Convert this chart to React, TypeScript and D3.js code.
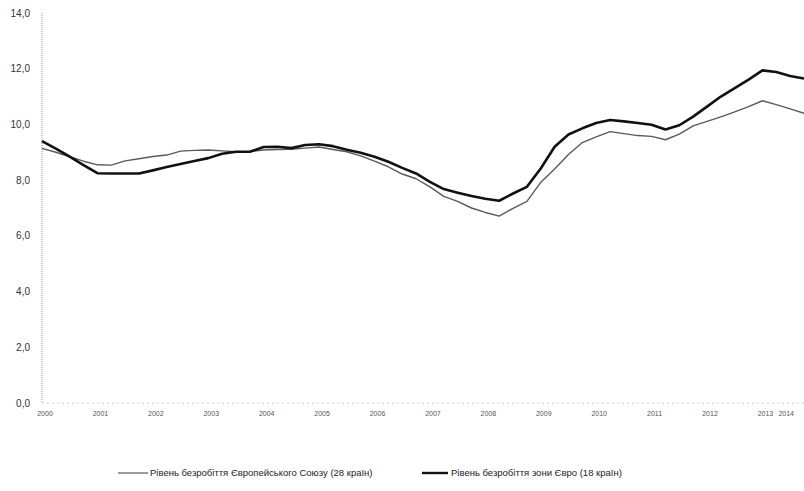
import * as d3 from "d3";

// quarterly readings, Jan 2000 .. Oct 2013
const quarters = d3.range(0, 56).map((i) => 2000 + i / 4);

const eu28 = [
  9.14, 9.0, 8.84, 8.68, 8.55, 8.54, 8.69, 8.77, 8.85, 8.9, 9.04, 9.07,
  9.08, 9.05, 9.02, 9.03, 9.08, 9.1, 9.11, 9.15, 9.19, 9.1, 9.02, 8.87,
  8.68, 8.48, 8.22, 8.05, 7.76, 7.42, 7.24, 7.0, 6.84, 6.71, 6.99, 7.24,
  7.92, 8.4, 8.92, 9.35, 9.55, 9.74, 9.67, 9.6, 9.57, 9.45, 9.65, 9.95,
  10.11, 10.27, 10.45, 10.64, 10.85, 10.71, 10.56, 10.4,
];

const ea18 = [
  9.4, 9.13, 8.84, 8.54, 8.25, 8.24, 8.24, 8.24, 8.35, 8.47, 8.58, 8.69,
  8.79, 8.95, 9.02, 9.02, 9.19, 9.2, 9.15, 9.26, 9.29, 9.22, 9.09, 8.98,
  8.84, 8.66, 8.44, 8.24, 7.94, 7.68, 7.55, 7.43, 7.33, 7.26, 7.52, 7.76,
  8.42, 9.2, 9.64, 9.86, 10.05, 10.16, 10.11, 10.05, 9.99, 9.82, 9.97, 10.28,
  10.64, 11.0, 11.3, 11.61, 11.94, 11.88, 11.74, 11.65,
];

const years = d3.range(2000, 2014);
const yTicks = [0, 2, 4, 6, 8, 10, 12, 14];

const seriesLabels = [
  "Рівень безробіття Європейського Союзу (28 країн)",
  "Рівень безробіття зони Євро (18 країн)",
];

const W = 804;
const H = 491;
const margin = { top: 13, right: 0, bottom: 88, left: 42 };

export default function App() {
  const x = d3.scaleLinear([2000, 2013.75], [margin.left, W - margin.right]);
  const y = d3.scaleLinear([0, 14], [H - margin.bottom, margin.top]);
  const fmt = (v: number) => d3.format(".1f")(v).replace(".", ",");

  const line = d3
    .line<number>()
    .x((_, i) => x(quarters[i]))
    .y((d) => y(d));

  const series = [
    { label: seriesLabels[0], data: eu28, color: "#5a5a5a", width: 1.4 },
    { label: seriesLabels[1], data: ea18, color: "#111", width: 2.6 },
  ];

  return (
    <svg
      width={W}
      height={H}
      style={{ position: "absolute", left: 0, top: 0, background: "#fff" }}
      fontFamily="'Liberation Sans', Arial, sans-serif"
    >
      {/* axes */}
      <line x1={x(2000)} x2={x(2000)} y1={y(14)} y2={y(0)} stroke="#aaa" strokeWidth={1.2} strokeDasharray="1 1" />
      <line x1={x(2000)} x2={W} y1={y(0)} y2={y(0)} stroke="#d0d0d0" strokeWidth={1} strokeDasharray="2 3" />

      {yTicks.map((t) => (
        <text key={t} x={30} y={y(t)} dy="0.35em" textAnchor="end" fontSize={10} fill="#333">
          {fmt(t)}
        </text>
      ))}

      {years.map((yr) => (
        <text key={yr} x={x(yr) + 3} y={y(0) + 13} textAnchor="middle" fontSize={7} fill="#555">
          {yr}
        </text>
      ))}
      <text x={W - 10} y={y(0) + 13} textAnchor="end" fontSize={7} fill="#555">
        2014
      </text>

      {series.map((s) => (
        <path key={s.label} d={line(s.data) ?? ""} fill="none" stroke={s.color} strokeWidth={s.width} strokeLinejoin="round" />
      ))}

      {/* legend */}
      <g transform="translate(118,473)">
        <line x1={0} x2={30} stroke={series[0].color} strokeWidth={1.2} />
        <text x={32} dy="0.35em" fontSize={9.5} fill="#222">{series[0].label}</text>
        <line x1={304} x2={330} stroke={series[1].color} strokeWidth={2.4} />
        <text x={333} dy="0.35em" fontSize={9.5} fill="#222">{series[1].label}</text>
      </g>
    </svg>
  );
}
